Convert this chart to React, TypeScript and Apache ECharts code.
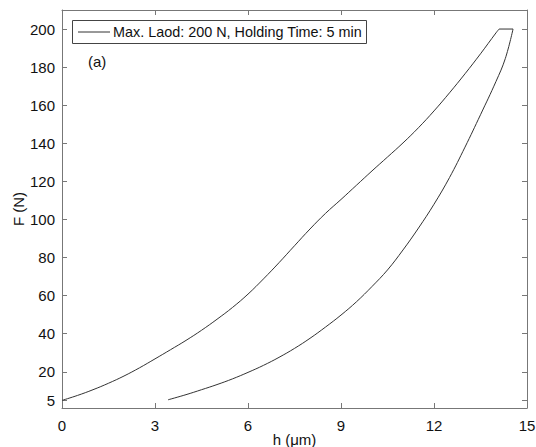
import React, { useEffect, useRef } from "react";
import * as echarts from "echarts";

// Loading branch (h in µm, F in N)
const loadH = [0, 0.5, 1, 1.5, 2, 2.5, 3, 3.5, 4, 4.5, 5, 5.5, 6, 6.5, 7, 7.5, 8, 8.5, 9, 9.5, 10, 10.5, 11, 11.5, 12, 12.5, 13, 13.5, 14, 14.1];
const loadF = [5, 7.6, 10.6, 14, 17.8, 22.1, 26.8, 31.6, 36.5, 41.8, 47.6, 53.8, 60.8, 68.8, 77.3, 86.2, 95, 103.2, 110.5, 118, 125.5, 132.8, 140.2, 148.2, 157, 166.5, 176.5, 187, 198, 200];
// Holding at max load
const holdH = [14.1, 14.55];
const holdF = [200, 200];
// Unloading branch (descending h)
const unloadH = [14.55, 14.3, 14, 13.5, 13, 12.5, 12, 11.5, 11, 10.5, 10, 9.5, 9, 8.5, 8, 7.5, 7, 6.5, 6, 5.5, 5, 4.5, 4, 3.42];
const unloadF = [200, 184.5, 172.5, 155, 138, 122, 108, 95.5, 84, 73.5, 64.8, 56.8, 49.8, 43.5, 37.6, 32.3, 27.6, 23.4, 19.7, 16.3, 13.3, 10.6, 8, 5.3];

const xTicks = [0, 3, 6, 9, 12, 15];
const yTicks = [5, 20, 40, 60, 80, 100, 120, 140, 160, 180, 200];

const seriesName = "Max. Laod: 200 N, Holding Time: 5 min";
const panelLabel = "(a)";
const xName = "h (μm)";
const yName = "F (N)";

const FONT = "'Liberation Sans', Arial, sans-serif";
const FS = 15;
const AXIS_COLOR = "#777";
const LINE_COLOR = "#333";
const TEXT_COLOR = "#111";

function pairs(xs: number[], ys: number[]) {
  return xs.map((x, i) => [x, ys[i]]);
}

export default function App() {
  const ref = useRef<HTMLDivElement>(null);
  useEffect(() => {
    if (!ref.current) return;
    const chart = echarts.init(ref.current, null, { renderer: "svg" });
    const tickStyle = { lineStyle: { color: AXIS_COLOR, width: 1 } };
    const lineSeries = (name: string, data: number[][], smooth: number | boolean) => ({
      name,
      type: "line",
      xAxisIndex: 0,
      yAxisIndex: 0,
      data,
      showSymbol: false,
      symbol: "none",
      smooth,
      lineStyle: { color: LINE_COLOR, width: 1 },
      itemStyle: { color: LINE_COLOR },
    });
    chart.setOption({
      animation: false,
      backgroundColor: "#fff",
      textStyle: { fontFamily: FONT },
      grid: {
        left: 62,
        right: 9,
        top: 10,
        bottom: 39,
        containLabel: false,
        outerBoundsMode: "none",
      },
      graphic: [
        {
          type: "rect",
          z: 10,
          shape: { x: 72.5, y: 20.5, width: 294, height: 23 },
          style: { fill: "#fff", stroke: "#444", lineWidth: 1 },
        },
        {
          type: "line",
          z: 11,
          shape: { x1: 78, y1: 32, x2: 110, y2: 32 },
          style: { stroke: LINE_COLOR, lineWidth: 1 },
        },
        {
          type: "text",
          z: 11,
          x: 113,
          y: 32,
          style: {
            text: seriesName,
            fontFamily: FONT,
            fontSize: 14.4,
            fill: TEXT_COLOR,
            verticalAlign: "middle",
            align: "left",
          },
        },
        {
          type: "text",
          left: 88,
          top: 54,
          style: { text: panelLabel, fontFamily: FONT, fontSize: FS, fill: TEXT_COLOR },
        },
      ],
      xAxis: [
        {
          type: "value",
          min: 0,
          max: 15,
          interval: 3,
          name: xName,
          nameLocation: "middle",
          nameGap: 24,
          nameMoveOverlap: false,
          nameTextStyle: { fontFamily: FONT, fontSize: FS, color: TEXT_COLOR },
          axisLine: { show: true, onZero: false, lineStyle: { color: AXIS_COLOR, width: 1 } },
          axisTick: { show: true, inside: true, length: 5, ...tickStyle },
          axisLabel: { fontFamily: FONT, fontSize: FS, color: TEXT_COLOR, margin: 10, customValues: xTicks },
          splitLine: { show: false },
        },
        {
          type: "value",
          position: "top",
          min: 0,
          max: 15,
          interval: 3,
          axisLine: { show: true, onZero: false, lineStyle: { color: AXIS_COLOR, width: 1 } },
          axisTick: { show: true, inside: true, length: 5, ...tickStyle },
          axisLabel: { show: false },
          splitLine: { show: false },
        },
      ],
      yAxis: [
        {
          type: "value",
          min: 1,
          max: 210,
          name: yName,
          nameLocation: "middle",
          nameGap: 36,
          nameMoveOverlap: false,
          nameRotate: 90,
          nameTextStyle: { fontFamily: FONT, fontSize: FS, color: TEXT_COLOR },
          axisLine: { show: true, onZero: false, lineStyle: { color: AXIS_COLOR, width: 1 } },
          axisTick: { show: true, inside: true, length: 5, customValues: yTicks, ...tickStyle },
          axisLabel: { fontFamily: FONT, fontSize: FS, color: TEXT_COLOR, margin: 7, customValues: yTicks },
          splitLine: { show: false },
        },
        {
          type: "value",
          position: "right",
          min: 1,
          max: 210,
          axisLine: { show: true, onZero: false, lineStyle: { color: AXIS_COLOR, width: 1 } },
          axisTick: { show: true, inside: true, length: 5, customValues: yTicks, ...tickStyle },
          axisLabel: { show: false },
          splitLine: { show: false },
        },
      ],
      series: [
        lineSeries(seriesName, pairs(loadH, loadF), 0.4),
        lineSeries("hold", pairs(holdH, holdF), false),
        lineSeries("unload", pairs(unloadH, unloadF), 0.4),
      ],
    });
    return () => chart.dispose();
  }, []);
  return (
    <div
      ref={ref}
      style={{ position: "fixed", left: 0, top: 0, width: 536, height: 447, background: "#fff" }}
    />
  );
}
